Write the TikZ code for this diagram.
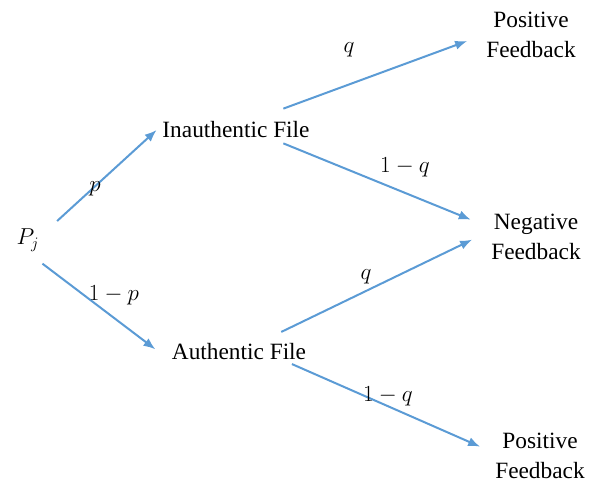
\documentclass[tikz,border=0pt]{standalone}
\usepackage{fontspec}
\setmainfont{Liberation Serif}
\usepackage{amsmath, amssymb}
\usetikzlibrary{arrows.meta}
\tikzset{every picture/.style={line width=0.75pt}}
\definecolor{arrblue}{RGB}{91,155,213}

\begin{document}
\begin{tikzpicture}[x=0.75pt,y=0.75pt,yscale=-1,xscale=1,
  arr/.style={draw=arrblue, line width=1.5pt, -{Latex[length=9pt,width=7pt]}},
  txt/.style={inner sep=4pt, font=\fontsize{17.5}{22}\selectfont, align=center},
  lbl/.style={inner sep=0.75pt, font=\fontsize{16}{19}\selectfont}]
\useasboundingbox (0,0) rectangle (589,482);

% Text Nodes
\node [txt] (pj) at (28,240) {\fontsize{18}{20}\selectfont$P_j$};
\node [txt] (inauth) at (236,130) {Inauthentic File};
\node [txt] (auth) at (239,352) {Authentic File};
\node [txt] (posA) at (531,35) {Positive\\Feedback};
\node [txt] (neg) at (536,237) {Negative\\Feedback};
\node [txt] (posB) at (540,456) {Positive\\Feedback};

% Straight Lines
\draw [arr] ([xshift=9pt,yshift=-1.5pt]pj.north east) -- (inauth.west);
\draw [arr] ([xshift=-2pt,yshift=5pt]pj.south east) -- ([xshift=-8pt,yshift=-2pt]auth.west);
\draw [arr] ([xshift=-24pt,yshift=-5.5pt]inauth.north east) -- ([xshift=-10pt,yshift=4.5pt]posA.west);
\draw [arr] ([xshift=-24pt,yshift=-0.5pt]inauth.south east) -- ([xshift=-11pt,yshift=-13pt]neg.west);
\draw [arr] ([xshift=-23pt,yshift=-4.5pt]auth.north east) -- ([xshift=-10pt,yshift=2pt]neg.west);
\draw [arr] ([xshift=-15pt,yshift=-1.5pt]auth.south east) -- ([xshift=-7pt,yshift=-7pt]posB.west);

% Edge labels
\node [lbl] (lp) at (95,189) {$p$};
\node [lbl] (lnp) at (114,295) {$1-p$};
\node [lbl] (lqA) at (349,50) {$q$};
\node [lbl] (lnqA) at (405,167) {$1-q$};
\node [lbl] (lqB) at (366,277) {$q$};
\node [lbl] (lnqB) at (388,396) {$1-q$};

\end{tikzpicture}
\end{document}
